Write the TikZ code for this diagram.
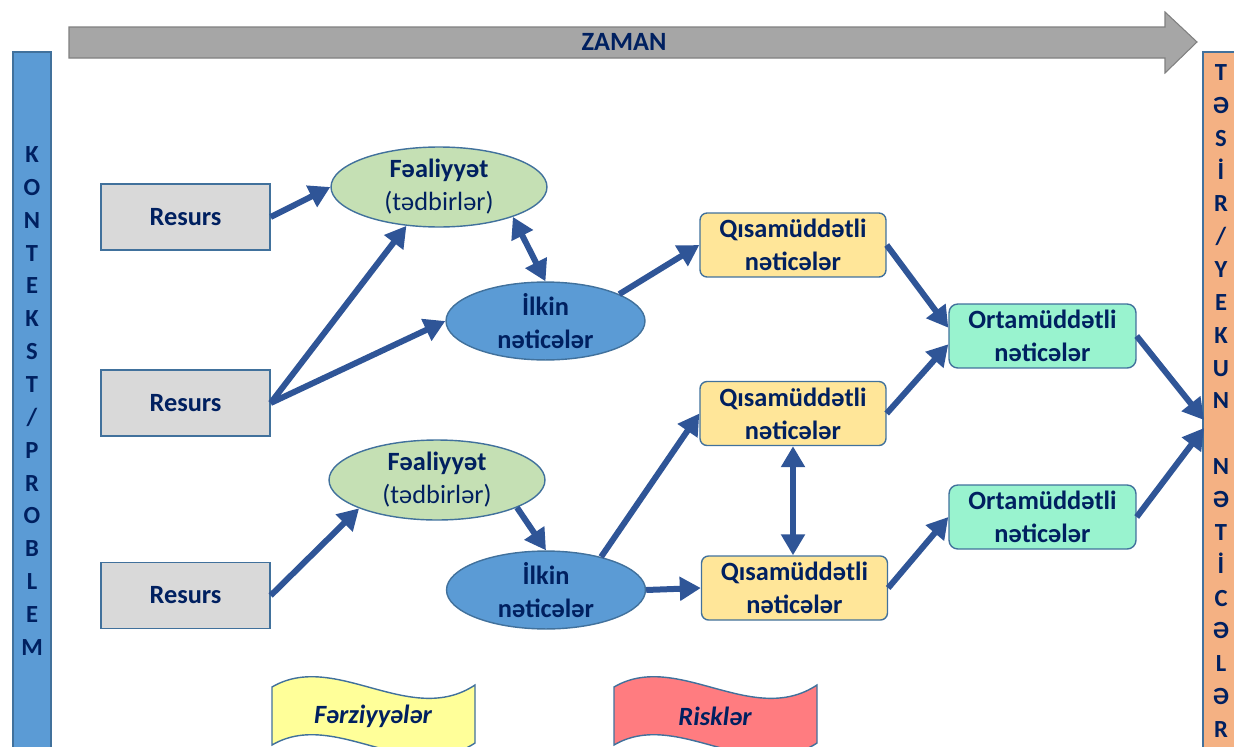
\documentclass[tikz,border=0pt]{standalone}
\usepackage{fontspec}
\setmainfont{Carlito}
\usepackage{xcolor}
\usetikzlibrary{arrows.meta,shapes.geometric}

\definecolor{navy}{RGB}{0,32,96}
\definecolor{flowblue}{RGB}{47,85,151}
\definecolor{edgeblue}{RGB}{65,113,156}
\definecolor{resgray}{RGB}{217,217,217}
\definecolor{actgreen}{RGB}{197,224,180}
\definecolor{outblue}{RGB}{91,155,213}
\definecolor{shortyellow}{RGB}{255,230,153}
\definecolor{midgreen}{RGB}{153,243,207}
\definecolor{impactorange}{RGB}{244,177,131}
\definecolor{timegray}{RGB}{166,166,166}
\definecolor{wishyellow}{RGB}{255,255,153}
\definecolor{riskred}{RGB}{255,124,128}

\begin{document}
\begin{tikzpicture}[x=0.02cm,y=-0.02cm,
    every node/.style={font=\fontsize{15}{18.7}\selectfont\bfseries,text=navy,align=center},
    resbox/.style={draw=edgeblue,line width=0.8pt,fill=resgray,minimum width=3.38cm,minimum height=1.32cm},
    actoval/.style={ellipse,draw=edgeblue,line width=0.8pt,fill=actgreen,inner sep=0pt,minimum width=4.32cm,minimum height=1.6cm},
    outoval/.style={ellipse,draw=edgeblue,line width=0.8pt,fill=outblue,inner sep=0pt,minimum width=3.98cm,minimum height=1.4cm},
    shortbox/.style={draw=edgeblue,line width=0.8pt,fill=shortyellow,rounded corners=4pt,minimum width=3.72cm,minimum height=1.28cm},
    midbox/.style={draw=edgeblue,line width=0.8pt,fill=midgreen,rounded corners=5pt,minimum width=3.74cm,minimum height=1.28cm},
    sidebar/.style={draw=edgeblue,line width=0.8pt,minimum height=13.96cm,inner sep=0pt,font=\fontsize{14}{18.7}\selectfont\bfseries},
    flow/.style={draw=flowblue,line width=0.12cm,-{Triangle[length=0.42cm,width=0.46cm]}},
    flowboth/.style={draw=flowblue,line width=0.12cm,{Triangle[length=0.42cm,width=0.46cm]}-{Triangle[length=0.42cm,width=0.46cm]}},
    wave/.style={draw=edgeblue,line width=0.8pt}]

    \useasboundingbox (0,0) rectangle (1234,747);

    % time arrow
    \draw[draw=gray,line width=0.6pt,fill=timegray] (69,27) -- (1165,27) -- (1165,12) -- (1197,42) -- (1165,73) -- (1165,58) -- (69,58) -- cycle;
    \node (zaman) at (624,42) {ZAMAN};

    % side bars
    \node (ctx) at (32,401) [sidebar,fill=outblue,minimum width=0.76cm] {K\\O\\N\\T\\E\\K\\S\\T\\/\\P\\R\\O\\B\\L\\E\\M};
    \node (imp) at (1221,401) [sidebar,fill=impactorange,minimum width=0.72cm] {T\\Ə\\S\\İ\\R\\/\\Y\\E\\K\\U\\N\\\mbox{}\\N\\Ə\\T\\İ\\C\\Ə\\L\\Ə\\R};

    % resources
    \node (res1) at (185.5,217) [resbox] {Resurs};
    \node (res2) at (185.5,403) [resbox] {Resurs};
    \node (res3) at (185.5,595.5) [resbox] {Resurs};

    % activities and outputs
    \node (act1) at (439,187) [actoval] {Fəaliyyət\\\mdseries(tədbirlər)};
    \node (act2) at (437,480) [actoval] {Fəaliyyət\\\mdseries(tədbirlər)};
    \node (out1) at (545.5,321) [outoval] {İlkin\\nəticələr};
    \node (out2) at (546,590) [outoval] {İlkin\\nəticələr};

    % short and medium term
    \node (sh1) at (793,245) [shortbox] {Qısamüddətli\\nəticələr};
    \node (sh2) at (793,413.5) [shortbox] {Qısamüddətli\\nəticələr};
    \node (sh3) at (794.5,588) [shortbox] {Qısamüddətli\\nəticələr};
    \node (mid1) at (1042.5,336) [midbox] {Ortamüddətli\\nəticələr};
    \node (mid2) at (1042.5,517) [midbox] {Ortamüddətli\\nəticələr};

    \coordinate (imp1) at (1204,420);
    \coordinate (imp2) at (1204,428);

    \draw[flow] (res1.east) -- (act1.west);
    \draw[flow] (res2.east) -- (act1.230);
    \draw[flow] (res2.east) -- (out1.west);
    \draw[flowboth] (act1.-22) -- (out1.north);
    \draw[flow] (out1.20) -- (sh1.west);
    \draw[flow] (sh1.east) -- (mid1.175);
    \draw[flow] (sh2.east) -- (mid1.185);
    \draw[flow] (mid1.east) -- (imp1);
    \draw[flow] (mid2.east) -- (imp2);
    \draw[flow] (res3.east) -- (act2.200);
    \draw[flow] (act2.-19) -- (out2.north);
    \draw[flow] (out2.31) -- (sh2.west);
    \draw[flow] (out2.east) -- (sh3.west);
    \draw[flowboth] (sh2.south) -- (sh2.south |- sh3.north);
    \draw[flow] (sh3.east) -- (mid2.west);

    % assumptions and risks
    \draw[wave,fill=wishyellow] (272,687) .. controls (335,650) and (410,728) .. (475,685) -- (475,743) .. controls (410,786) and (335,708) .. (272,745) -- cycle;
    \node (wish) at (373,716) {\itshape Fərziyyələr};
    \draw[wave,fill=riskred] (614,687) .. controls (677,650) and (752,728) .. (817,685) -- (817,743) .. controls (752,786) and (677,708) .. (614,745) -- cycle;
    \node (risk) at (715,716) {\itshape Risklər};
\end{tikzpicture}
\end{document}
